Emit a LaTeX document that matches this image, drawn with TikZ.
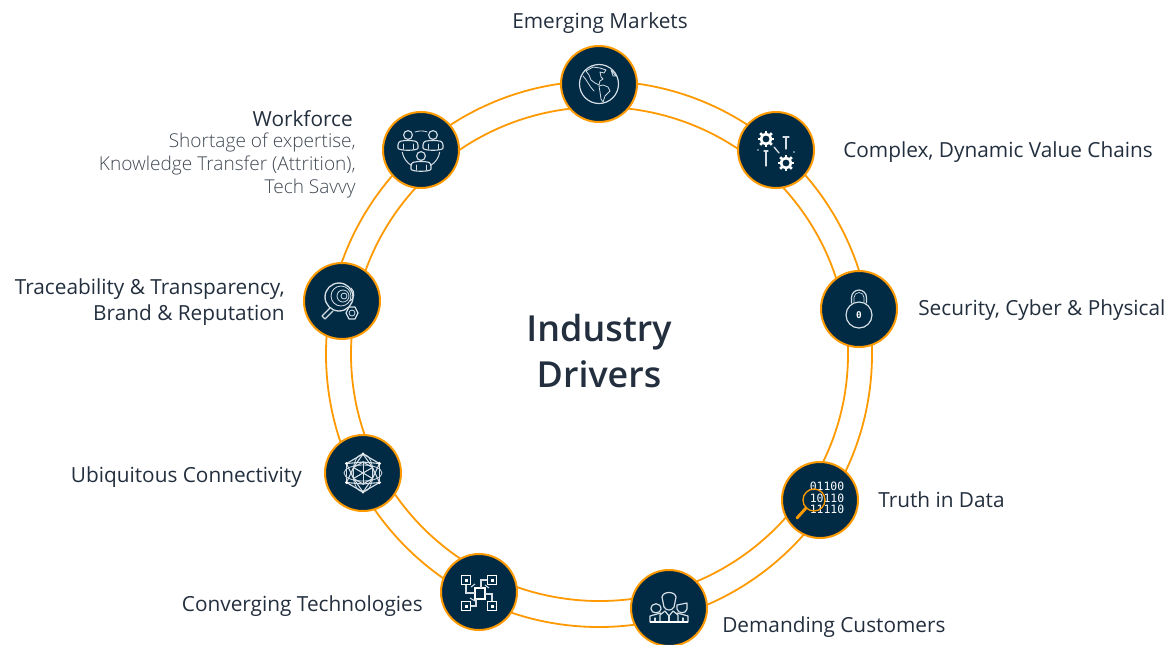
\documentclass[tikz,border=0pt]{standalone}
\usepackage{fontspec}
\setmainfont{Open Sans}
\newfontfamily\lightf{Open Sans Light}
\newfontfamily\semif{Open Sans Semibold}
\newfontfamily\monof{DejaVu Sans Mono}[Scale=1]
\usetikzlibrary{calc}
\definecolor{ringc}{HTML}{FF9900}
\definecolor{navy}{HTML}{012A45}
\definecolor{ink}{HTML}{232F3E}
\definecolor{soft}{HTML}{414953}
\definecolor{iconc}{HTML}{D5DEE4}
\tikzset{
 x=0.75pt,y=-0.75pt,
 ring/.style={draw=ringc,line width=1.35pt},
 hub/.style={circle,draw=ringc,line width=1.5pt,fill=navy,minimum size=57pt,inner sep=0pt},
 lab/.style={text=ink,font=\fontsize{15.6}{18}\selectfont,inner sep=0pt},
 sublab/.style={text=soft,font=\lightf\fontsize{14.3}{17.2}\selectfont,inner sep=0pt,align=right},
 title/.style={text=ink,font=\semif\fontsize{26.9}{34.5}\selectfont,inner sep=0pt,align=center},
 ico/.style={draw=iconc,line width=0.6pt,line cap=round,line join=round},
}
\newcommand{\gearicon}[3]{% x y r
 \draw[white,line width=2pt] (#1,#2) circle (#3);
 \foreach \a in {0,45,...,315}{\draw[white,line width=2pt] ($(#1,#2)+(\a:#3+1)$) -- ($(#1,#2)+(\a:#3+3.2)$);}
}
\newcommand{\personicon}[2]{% x y
 \draw[ico,line width=.85pt] (#1,#2-7) circle (4.4);
 \draw[ico,line width=.85pt] (#1-10,#2+6) -- (#1-10,#2+3) .. controls (#1-10,#2-1) and (#1-6,#2-1.5) .. (#1-3,#2-1.5) -- (#1+3,#2-1.5) .. controls (#1+6,#2-1.5) and (#1+10,#2-1) .. (#1+10,#2+3) -- (#1+10,#2+6) .. controls (#1+10,#2+9) and (#1-10,#2+9) .. (#1-10,#2+6) -- cycle;
 \draw[ico,line width=.6pt] (#1-5,#2+2) -- (#1-5,#2+7) (#1+5,#2+2) -- (#1+5,#2+7);
}
\begin{document}
\begin{tikzpicture}
\useasboundingbox (0,0) rectangle (1169,644);
% rings
\draw[ring] (599,354) circle (273);
\draw[ring] (599.5,354) ellipse (248.5 and 247);
% hubs
\node[hub] (em) at (599,84) {};
\node[hub] (cx) at (776,150) {};
\node[hub] (se) at (859,309) {};
\node[hub] (tr) at (820,500) {};
\node[hub] (de) at (669,608) {};
\node[hub] (co) at (479,592) {};
\node[hub] (ub) at (363,473) {};
\node[hub] (tc) at (342,301) {};
\node[hub] (wf) at (421,150) {};
% globe
\begin{scope}[shift={(em.center)}]
 \draw[ico,line width=.9pt] (0,0) circle (19.5);
 \draw[ico] (-13,-13) -- (-6,-17) -- (1,-16) -- (7,-14) -- (5,-11) -- (1,-12) -- (2,-7) -- (4,-5) -- (1,-3) -- (0,1) -- (-4,-1) -- (-8,-4) -- (-10,-9) -- cycle;
 \draw[ico] (0,2) -- (4,1) -- (9,3) -- (11,7) -- (8,10) -- (6,12) -- (4,18) -- (2,15) -- (1,8) -- cycle;
 \draw[ico] (12,-14) -- (17,-8) -- (14,-8) -- cycle;
 \draw[ico] (-16,-8) .. controls (-12,-4) and (-10,2) .. (-5,7);
\end{scope}
% gears
\begin{scope}[shift={(cx.center)}]
 \gearicon{-10}{-11}{5}
 \gearicon{10}{13}{5}
 \draw[ico,line width=1pt] (-2,-3) -- (3,3);
 \draw[ico,line width=.9pt] (10,-13) -- (10,-1) (7,-13) -- (13,-13);
 \draw[ico,line width=.9pt] (-10,1) -- (-10,16) (-12,1) -- (-8,1);
 \fill[iconc] (-18,0) circle (.9) (18,2) circle (.9);
\end{scope}
% lock
\begin{scope}[shift={(se.center)}]
 \draw[ico,line width=.9pt] (0,6) circle (13);
 \draw[ico,line width=.9pt] (-7.5,-6) -- (-7.5,-11.5) arc (180:360:7.5) -- (7.5,-6);
 \draw[ico,line width=.5pt] (-5,-7) -- (-5,-11.5) arc (180:360:5) -- (5,-7);
 \node[text=white,font=\monof\fontsize{7}{7}\selectfont\bfseries,inner sep=0pt] (lk) at (0,6) {0};
\end{scope}
% data
\begin{scope}[shift={(tr.center)}]
 \node[text=white,font=\monof\fontsize{8.6}{8.75}\selectfont,inner sep=0pt,align=left] (bin) at (7,-2) {01100\\10110\\11110};
 \draw[ringc,line width=1pt] (-6,0) circle (11);
 \draw[ringc,line width=2.2pt,line cap=round] (-14,8) -- (-23,18);
\end{scope}
% customers
\begin{scope}[shift={(de.center)}]
 \draw[ico,line width=.9pt] (-7,-11) .. controls (-6,-17) and (6,-17) .. (7,-11) -- (5,-1) .. controls (3,3) and (-3,3) .. (-5,-1) -- cycle;
 \draw[ico,line width=.9pt] (-18,1) .. controls (-18,-6) and (-8,-6) .. (-8,1) .. controls (-8,6) and (-18,6) .. (-18,1);
 \draw[ico,line width=.9pt] (8,-3) -- (18,-5) -- (18,1) .. controls (17,6) and (9,6) .. (8,1) -- cycle;
 \draw[ico,line width=.9pt] (-19,14) -- (-19,8) -- (-12,6) -- (-8,5) (19,14) -- (19,8) -- (12,6) -- (8,5);
 \draw[ico,line width=.9pt] (-9,14) -- (-9,7) -- (-4,3) -- (0,8) -- (4,3) -- (9,7) -- (9,14);
 \draw[ico,line width=.9pt] (-14,10) -- (-14,14) (14,10) -- (14,14) (0,8) -- (0,14);
 \draw[white,line width=1.1pt] (-19,14) -- (19,14);
\end{scope}
% converging
\begin{scope}[shift={(co.center)}]
 \foreach \sx/\sy in {-13/-12,13/-12,-13/14,13/14}{
  \draw[white,line width=1.1pt] (\sx-4.5,\sy-4.5) rectangle (\sx+4.5,\sy+4.5);
  \fill[white] (\sx-1.5,\sy-1.5) rectangle (\sx+1.5,\sy+1.5);}
 \draw[white,line width=1.1pt] (-4,-4) rectangle (6,7);
 \draw[iconc,line width=.8pt] (-13,-7) -- (-13,1) -- (-4,1) (8,-12) -- (2,-12) -- (2,-4) (-8,14) -- (-3,14) -- (-3,7) (13,9) -- (13,2) -- (6,2);
 \draw[iconc,line width=.8pt] (-8,-5) -- (-4,-8) (6,-7) -- (10,-4) (-9,6) -- (-4,9);
\end{scope}
% network
\begin{scope}[shift={(ub.center)}]
 \foreach \a [evaluate=\a as \b using \a+60] in {30,90,...,330}{
  \draw[ico,line width=.9pt] (\a:19) -- (\b:19);
  \draw[ico,line width=.8pt] (\a:19) -- (\a+60:11);
  \draw[ico,line width=.8pt] (\a:19) -- (\a-60:11);
  \draw[ico,line width=.8pt] (\a:11) -- (\b:11);
  \draw[ico] (\a:11) -- (\a+180:11);
  \fill[white] (\a:19) circle (1.7);
 }
 \draw[ico] (0,0) ellipse (10 and 19) (0,0) ellipse (19 and 8);
\end{scope}
% traceability
\begin{scope}[shift={(tc.center)}]
 \draw[ico,line width=1pt] (-3,-4) circle (14);
 \draw[ico] (-1,-5) circle (10);
 \draw[ico] (1,-5) circle (6);
 \draw[ico] (2,-5) circle (3);
 \draw[ico,line width=.8pt] (9,-13) arc (-50:60:8);
 \draw[ico,line width=.9pt] (-12,7) -- (-20,15) -- (-17,18) -- (-9,10);
 \draw[ico,line width=.9pt] (4,12) -- (7,6) -- (13,6) -- (16,12) -- (13,18) -- (7,18) -- cycle;
 \draw[ico] (10,12) circle (3);
\end{scope}
% workforce
\begin{scope}[shift={(wf.center)}]
 \personicon{-13}{-8}
 \personicon{12}{-8}
 \personicon{0}{13}
 \draw[ico] (-6,-18) arc (-110:-70:18);
 \draw[ico,line width=.75pt] (-18.7,2.3) arc (170:120:19);
 \draw[ico,line width=.75pt] (18.7,2.3) arc (10:60:19);
\end{scope}
% labels
\node[lab,anchor=mid] (t1) at (600,25) {Emerging Markets};
\node[lab,anchor=mid west] (t2) at (843,154) {Complex, Dynamic Value Chains};
\node[lab,anchor=mid west] (t3) at (918,312) {Security, Cyber \& Physical};
\node[lab,anchor=mid west] (t4) at (878,504) {Truth in Data};
\node[lab,anchor=mid west] (t5) at (722,629) {Demanding Customers};
\node[lab,anchor=mid east] (t6) at (423,608) {Converging Technologies};
\node[lab,anchor=mid east] (t7) at (302,479) {Ubiquitous Connectivity};
\node[lab,anchor=mid east] (t8) at (285,291) {Traceability \& Transparency,};
\node[lab,anchor=mid east] (t8b) at (285,317) {Brand \& Reputation};
\node[lab,anchor=mid east] (t9) at (353,123) {Workforce};
\node[sublab,anchor=north east] (t9b) at (356,133) {Shortage of expertise,\\Knowledge Transfer (Attrition),\\Tech Savvy};
\node[title] (ct) at (599,351) {Industry\\Drivers};
\end{tikzpicture}
\end{document}
